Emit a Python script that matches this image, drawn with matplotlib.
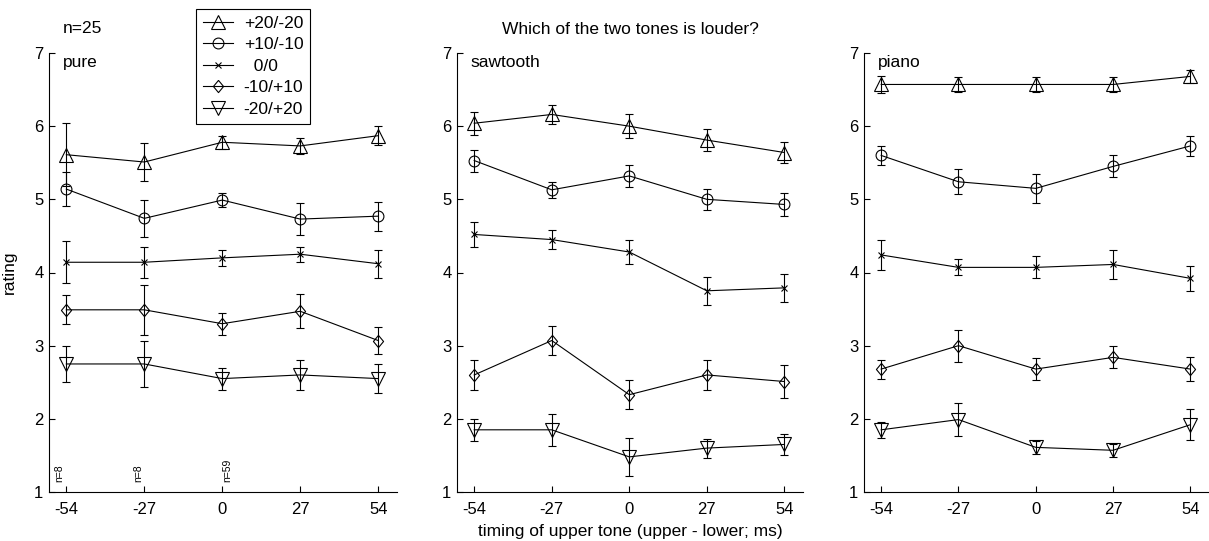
"""Loudness ratings vs. timing of the upper tone, three timbres (pure/sawtooth/piano)."""
import matplotlib

matplotlib.use("Agg")
import matplotlib.pyplot as plt

plt.rcParams["font.family"] = ["Liberation Sans", "DejaVu Sans"]
plt.rcParams["axes.unicode_minus"] = False

# timing of upper tone (ms)
timing = [-54, -27, 0, 27, 54]
level_labels = ["+20/-20", "+10/-10", "  0/0", "-10/+10", "-20/+20"]
panel_names = ["pure", "sawtooth", "piano"]

# mean rating per level (rows follow level_labels), one block per timbre
pure_mean = [
    [5.61, 5.51, 5.78, 5.73, 5.87],
    [5.14, 4.74, 4.99, 4.73, 4.77],
    [4.14, 4.14, 4.20, 4.25, 4.12],
    [3.49, 3.49, 3.30, 3.47, 3.07],
    [2.75, 2.75, 2.55, 2.60, 2.55],
]
pure_err = [
    [0.43, 0.26, 0.09, 0.11, 0.13],
    [0.23, 0.25, 0.10, 0.22, 0.20],
    [0.29, 0.21, 0.11, 0.10, 0.19],
    [0.20, 0.34, 0.15, 0.23, 0.18],
    [0.25, 0.32, 0.15, 0.21, 0.20],
]
saw_mean = [
    [6.04, 6.16, 6.00, 5.81, 5.64],
    [5.53, 5.13, 5.32, 5.00, 4.93],
    [4.52, 4.45, 4.28, 3.75, 3.79],
    [2.60, 3.07, 2.33, 2.60, 2.51],
    [1.85, 1.85, 1.48, 1.60, 1.65],
]
saw_err = [
    [0.16, 0.13, 0.16, 0.15, 0.14],
    [0.15, 0.11, 0.15, 0.14, 0.16],
    [0.17, 0.13, 0.17, 0.19, 0.19],
    [0.20, 0.20, 0.20, 0.20, 0.22],
    [0.15, 0.22, 0.26, 0.13, 0.14],
]
piano_mean = [
    [6.57, 6.57, 6.57, 6.57, 6.68],
    [5.60, 5.24, 5.15, 5.45, 5.73],
    [4.24, 4.07, 4.07, 4.11, 3.92],
    [2.68, 3.00, 2.68, 2.84, 2.68],
    [1.85, 1.99, 1.61, 1.57, 1.92],
]
piano_err = [
    [0.12, 0.10, 0.10, 0.10, 0.09],
    [0.13, 0.17, 0.20, 0.15, 0.14],
    [0.20, 0.11, 0.15, 0.20, 0.17],
    [0.13, 0.22, 0.15, 0.15, 0.16],
    [0.11, 0.23, 0.09, 0.09, 0.21],
]

# cell counts written under the pure panel
n_timing = [-54, -27, 0]
n_text = ["n=8", "n=8", "n=59"]

DIAMOND = [(0, 1), (0.83, 0), (0, -1), (-0.83, 0), (0, 1)]  # MATLAB-like 'd'
MARKERS = [("^", 9.5), ("o", 7.8), ("x", 5), (DIAMOND, 8.8), ("v", 9.5)]
N_OFFSET = [-2.6, -2.1, 1.9]  # nudge of the rotated n= labels (data units)


def draw_panel(ax, means, errs, name):
    handles = []
    for (m, ms), mean, err, lab in zip(MARKERS, means, errs, level_labels):
        ax.errorbar(timing, mean, yerr=err, fmt="none", ecolor="k",
                    elinewidth=0.8, capsize=3, capthick=0.8)
        h, = ax.plot(timing, mean, color="k", lw=0.8, marker=m, ms=ms,
                     mfc="none", mec="k", mew=0.8, label=lab)
        handles.append(h)
    ax.set_xlim(-60, 60.5)
    ax.set_ylim(1, 7)
    ax.set_xticks(timing)
    ax.set_yticks(range(1, 8))
    for s in ("top", "right"):
        ax.spines[s].set_visible(False)
    for s in ("left", "bottom"):
        ax.spines[s].set_linewidth(0.8)
    ax.tick_params(direction="in", length=4, width=0.8, labelsize=12)
    ax.tick_params(axis="x", pad=7)
    ax.tick_params(axis="y", pad=4)
    ax.text(0.04, 0.968, name, transform=ax.transAxes, fontsize=12.5,
            va="baseline", ha="left")
    return handles


fig = plt.figure(figsize=(12.09, 5.41), dpi=100)
W, H = 1209, 541
lefts = [49, 457, 864]
widths = [348, 346, 345]
axes = [fig.add_axes([l / W, 49 / H, w / W, 439 / H]) for l, w in zip(lefts, widths)]

handles = draw_panel(axes[0], pure_mean, pure_err, panel_names[0])
draw_panel(axes[1], saw_mean, saw_err, panel_names[1])
draw_panel(axes[2], piano_mean, piano_err, panel_names[2])

axes[0].set_ylabel("rating", fontsize=12.5)
axes[0].yaxis.set_label_coords(-0.093, 0.5)
axes[0].text(0.04, 1.046, "n=25", transform=axes[0].transAxes, fontsize=12.5,
             va="baseline", ha="left")
for x, t, dx in zip(n_timing, n_text, N_OFFSET):
    axes[0].text(x + dx, 1.13, t, rotation=90, fontsize=7.5, ha="center", va="bottom")

axes[1].set_title("Which of the two tones is louder?", fontsize=12.5, pad=14)
axes[1].set_xlabel("timing of upper tone (upper - lower; ms)", fontsize=12.5, labelpad=5)

fig.legend(handles=handles, loc="upper left", bbox_to_anchor=(196 / W, 1 - 9 / H),
           borderaxespad=0, fontsize=12.5, numpoints=1, handlelength=1.75,
           handletextpad=0.6, labelspacing=0.36, borderpad=0.4,
           fancybox=False, framealpha=1, edgecolor="k").get_frame().set_linewidth(0.8)

fig.savefig("out.png", dpi=100)
